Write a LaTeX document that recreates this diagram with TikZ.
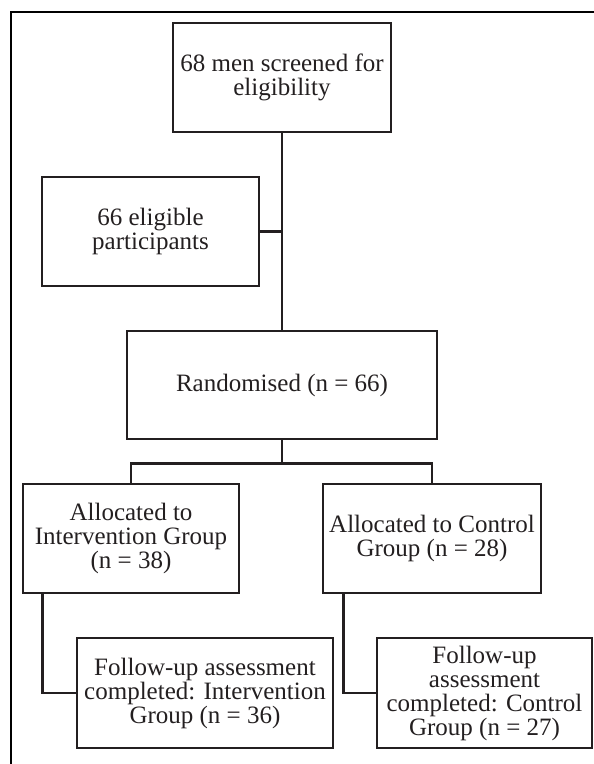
\documentclass[tikz,border=0pt]{standalone}
\usepackage{fontspec}
\setmainfont{Liberation Serif}
\usepackage{tikz}
\usetikzlibrary{positioning,calc}
\definecolor{inkcolor}{RGB}{35,31,32}

\begin{document}
\begin{tikzpicture}[
    x=1pt, y=-1pt,
    box/.style={draw=inkcolor, line width=2.7pt, text=inkcolor, align=center, inner sep=2pt,
      minimum height=109pt, font=\fontsize{25}{24}\selectfont},
    link/.style={draw=inkcolor, line width=2.7pt}
  ]
    \useasboundingbox (0,0) rectangle (594,764);
    % outer frame (only top and left edges show)
    \draw[black, line width=2pt] (11,764) -- (11,12) -- (594,12);

    \node[box, minimum width=218pt] (screen) at (282,77.5) {68 men screened for\\eligibility};
    \node[box, minimum width=217pt] (elig) at (150.5,231.5) {66 eligible\\participants};
    \node[box, minimum width=310pt, minimum height=108pt] (rand) at (282,385) {Randomised (n = 66)};
    \node[box, minimum width=216pt] (allocI) at (131,538.5) {Allocated to\\Intervention Group\\(n = 38)};
    \node[box, minimum width=218pt] (allocC) at (432,538.5) {Allocated to Control\\Group (n = 28)};
    \node[box, minimum width=256pt, minimum height=110pt] (followI) at (205,693) {Follow-up assessment\\completed: Intervention\\Group (n = 36)};
    \node[box, minimum width=215pt, minimum height=110pt] (followC) at (484.5,693) {Follow-up\\assessment\\completed: Control\\Group (n = 27)};

    \draw[link] (screen.south) -- (rand.north);
    \draw[link] (elig.east) -- (elig.east -| screen.south);
    \coordinate (split) at ($(rand.south)+(0,23)$);
    \draw[link] (rand.south) -- (split);
    \draw[link] (allocI.north) |- (split) -| (allocC.north);
    \draw[link] ($(allocI.south west)+(21,0)$) |- (followI.west);
    \draw[link] ($(allocC.south west)+(22,0)$) |- (followC.west);
  \end{tikzpicture}
\end{document}
